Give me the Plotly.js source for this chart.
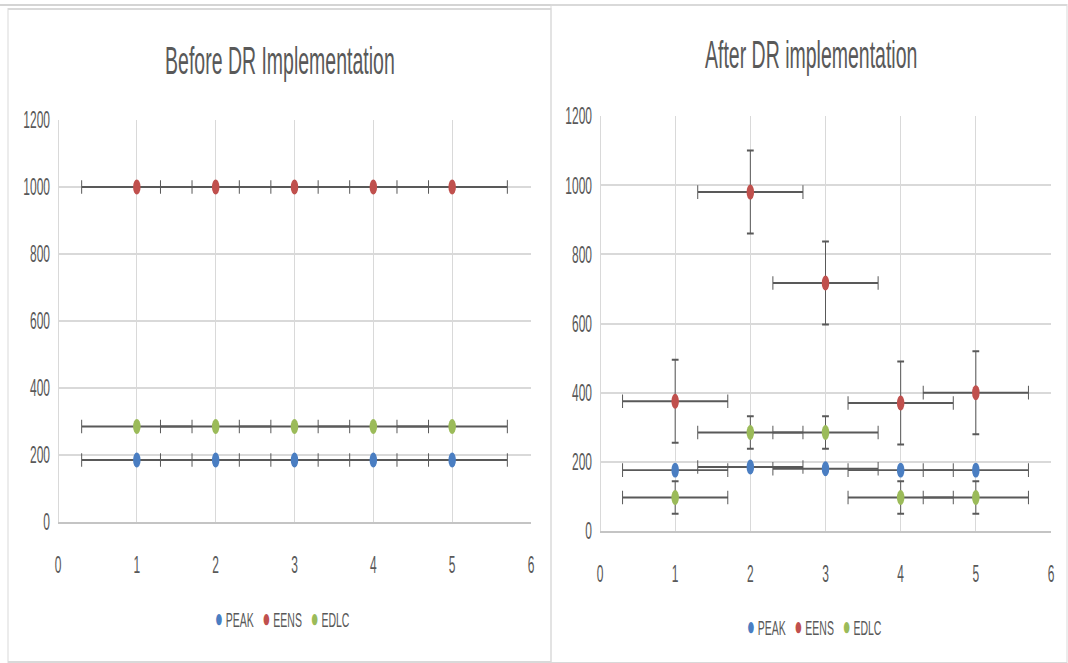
<!DOCTYPE html>
<html>
<head>
<meta charset="utf-8">
<script src="https://cdn.plot.ly/plotly-3.0.1.min.js"></script>
<style>
  html, body { margin: 0; padding: 0; background: #ffffff; overflow: hidden; }
  #wrap { width: 1068px; height: 663px; overflow: hidden; }
  #chart { width: 1068px; height: 332px; transform: scale(1, 1.99699); transform-origin: 0 0; }
</style>
</head>
<body>
<div id="wrap"><div id="chart"></div></div>
<script>
// ---- data ----
const xValues = [1, 2, 3, 4, 5];
const seriesNames = ["PEAK", "EENS", "EDLC"];

const beforePeak = [185, 185, 185, 185, 185];
const beforeEens = [1000, 1000, 1000, 1000, 1000];
const beforeEdlc = [285, 285, 285, 285, 285];

const afterPeak = [176, 185, 180, 176, 176];
const afterEens = [375, 980, 717, 370, 400];
const afterEdlc = [97, 285, 285, 97, 97];

const xError = 0.7;
const afterEensYError = 120;
const afterEdlcYError = 47;

const xTicks = [0, 1, 2, 3, 4, 5, 6];
const yTicks = [0, 200, 400, 600, 800, 1000, 1200];

const titles = ["Before DR Implementation", "After DR implementation"];

// ---- styles ----
const colors = { PEAK: "#4A7EC2", EENS: "#C0504D", EDLC: "#9BBB59" };
const font = "Liberation Sans, Arial, sans-serif";
const textColor = "#595959";
const gridColor = "#D9D9D9";
const errColor = "#595959";

function ex() {
  return { type: "constant", value: xError, color: errColor, thickness: 1, width: 3.4 };
}
function ey(v) {
  return { type: "constant", value: v, color: errColor, thickness: 1, width: 3.4 };
}
function trace(name, y, xa, ya, yerr) {
  const t = {
    type: "scatter", mode: "markers", name: name,
    x: xValues, y: y, xaxis: xa, yaxis: ya,
    marker: { color: colors[name], size: 7.5, line: { width: 0 } },
    error_x: ex(), showlegend: false, hoverinfo: "skip"
  };
  if (yerr !== undefined) t.error_y = ey(yerr);
  return t;
}

const data = [
  trace("PEAK", beforePeak, "x", "y"),
  trace("EENS", beforeEens, "x", "y"),
  trace("EDLC", beforeEdlc, "x", "y"),
  trace("PEAK", afterPeak, "x2", "y2"),
  trace("EENS", afterEens, "x2", "y2", afterEensYError),
  trace("EDLC", afterEdlc, "x2", "y2", afterEdlcYError)
];

function xAxis(domain, anchor) {
  return {
    domain: domain, anchor: anchor, range: [0, 6], tickvals: xTicks,
    showgrid: true, gridcolor: gridColor, gridwidth: 1,
    zeroline: true, zerolinecolor: gridColor, zerolinewidth: 1,
    showline: true, linecolor: "#C4C4C4", linewidth: 1,
    ticks: "", ticklabelstandoff: 10,
    tickfont: { family: font, size: 12, color: textColor },
    fixedrange: true, automargin: false
  };
}
function yAxis(domain, anchor) {
  return {
    domain: domain, anchor: anchor, range: [0, 1200], tickvals: yTicks,
    showgrid: true, gridcolor: gridColor, gridwidth: 1,
    zeroline: false, showline: false,
    ticks: "", ticklabelstandoff: 7,
    tickfont: { family: font, size: 12, color: textColor },
    fixedrange: true, automargin: false
  };
}

const NB = "\u00A0";
function legendText() {
  return seriesNames.map(n =>
    '<span style="color:' + colors[n] + ';font-size:13px">●</span>' + NB + n
  ).join(NB + NB + NB);
}

const H = 332, S = 663 / 332;
const py = v => 1 - (v / S) / H;   // reference pixel y -> paper y
const px = v => v / 1068;

const layout = {
  width: 1068, height: H,
  margin: { l: 0, r: 0, t: 0, b: 0, pad: 0 },
  paper_bgcolor: "#ffffff", plot_bgcolor: "#ffffff",
  showlegend: false,
  xaxis: xAxis([58 / 1068, 531 / 1068], "y"),
  yaxis: yAxis([1 - 522 / 663, 1 - 120 / 663], "x"),
  xaxis2: xAxis([600 / 1068, 1051 / 1068], "y2"),
  yaxis2: yAxis([1 - 531 / 663, 1 - 116 / 663], "x2"),
  annotations: [
    { text: titles[0], xref: "paper", yref: "paper", x: px(280), y: py(60),
      xanchor: "center", yanchor: "middle", showarrow: false,
      font: { family: font, size: 19.5, color: textColor } },
    { text: titles[1], xref: "paper", yref: "paper", x: px(811), y: py(53),
      xanchor: "center", yanchor: "middle", showarrow: false,
      font: { family: font, size: 19.5, color: textColor } },
    { text: legendText(), xref: "paper", yref: "paper", x: px(282), y: py(618),
      xanchor: "center", yanchor: "middle", showarrow: false,
      font: { family: font, size: 10.5, color: textColor } },
    { text: legendText(), xref: "paper", yref: "paper", x: px(814), y: py(626),
      xanchor: "center", yanchor: "middle", showarrow: false,
      font: { family: font, size: 10.5, color: textColor } }
  ],
  shapes: [
    { type: "line", xref: "paper", yref: "paper", x0: 0, x1: px(551), y0: py(5), y1: py(5),
      line: { color: "#D4D4D4", width: 1 } },
    { type: "rect", xref: "paper", yref: "paper", x0: px(8), x1: px(551), y0: py(662), y1: py(9),
      line: { color: "#D9D9D9", width: 1 } },
    { type: "rect", xref: "paper", yref: "paper", x0: px(551), x1: px(1067), y0: py(663), y1: py(5),
      line: { color: "#D9D9D9", width: 1 } }
  ]
};

Plotly.newPlot("chart", data, layout, { displayModeBar: false, staticPlot: true });
</script>
</body>
</html>
